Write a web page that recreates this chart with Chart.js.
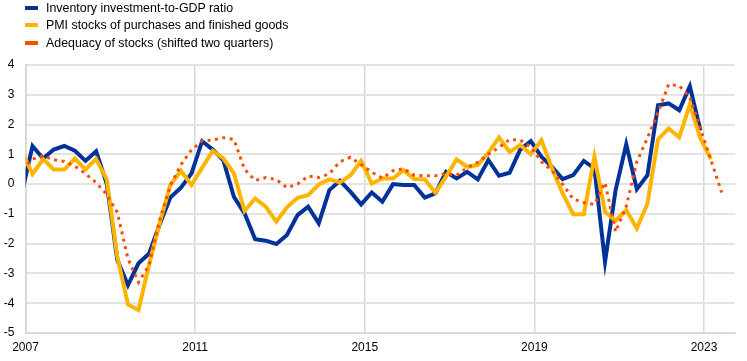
<!DOCTYPE html>
<html>
<head>
<meta charset="utf-8">
<script src="https://cdn.jsdelivr.net/npm/chart.js@4.4.1/dist/chart.umd.min.js"></script>
<style>
    body { margin: 0; background: #fff; font-family: "Liberation Sans", Arial, sans-serif; }
    #wrap { position: relative; width: 747px; height: 361px; }
    #legenda { position: absolute; left: 25px; top: -1px; font-size: 12.4px; color: #000; z-index: 2; }
    #legenda div { height: 17.5px; display: flex; align-items: center; white-space: nowrap; }
    #legenda .cor { width: 13px; height: 4px; margin-right: 8px; }
    canvas { position: absolute; left: 0; top: 0; }
</style>
</head>
<body>
<div id="wrap">
    <div id="legenda"></div>
    <canvas id="grafico" width="747" height="361"></canvas>
</div>
<script>
// trimestral, primeiro ponto = 2006 T4 (cortado na borda esquerda)
const inicio = 2006.75;
const anos = [2007, 2011, 2015, 2019, 2023];

const nomes = [
    'Inventory investment-to-GDP ratio',
    'PMI stocks of purchases and finished goods',
    'Adequacy of stocks (shifted two quarters)'
];
const cores = ['#003299', '#ffb400', '#ff4b00'];

const estoquesPib = [
    -0.3, 1.28, 0.86, 1.16, 1.28, 1.12, 0.78, 1.10, 0.02, -2.55,
    -3.39, -2.66, -2.33, -1.35, -0.45, -0.12, 0.36, 1.44, 1.16, 0.8,
    -0.43, -0.98, -1.85, -1.9, -2.01, -1.71, -1.04, -0.76, -1.32, -0.2,
    0.11, -0.26, -0.68, -0.28, -0.59, 0.0, -0.03, -0.03, -0.45, -0.31,
    0.41, 0.19, 0.41, 0.16, 0.81, 0.28, 0.38, 1.16, 1.44, 0.92,
    0.58, 0.17, 0.3, 0.78, 0.53, -2.61, -0.2, 1.34, -0.17, 0.3,
    2.65, 2.71, 2.48, 3.29, 1.8
];

const pmiEstoques = [
    1.1, 0.34, 0.84, 0.49, 0.49, 0.86, 0.49, 0.84, 0.16, -2.44,
    -4.04, -4.23, -2.7, -1.3, -0.03, 0.45, -0.03, 0.55, 1.12, 0.86,
    0.36, -0.9, -0.48, -0.76, -1.26, -0.78, -0.46, -0.37, -0.01, 0.16,
    0.06, 0.3, 0.78, 0.02, 0.19, 0.19, 0.47, 0.17, 0.16, -0.29,
    0.25, 0.83, 0.58, 0.64, 1.05, 1.57, 1.08, 1.31, 1.0, 1.48,
    0.53, -0.31, -1.01, -1.01, 0.92, -0.93, -1.23, -0.87, -1.49, -0.65,
    1.5, 1.87, 1.57, 2.67, 1.53, 0.84
];

const adequacao = [
    0.5, 0.84, 0.95, 0.82, 0.76, 0.6, 0.35, 0.05, -0.35, -0.95,
    -2.5, -3.3, -2.72, -1.2, -0.05, 0.65, 1.15, 1.45, 1.48, 1.56,
    1.5, 0.5, 0.12, 0.22, 0.15, -0.12, 0.0, 0.27, 0.22, 0.35,
    0.75, 0.9, 0.65, 0.4, 0.2, 0.45, 0.52, 0.3, 0.28, 0.28,
    0.35, 0.3, 0.55, 0.73, 1.0, 1.23, 1.5, 1.48, 1.25, 0.75,
    0.45, 0.0, -0.5, -0.62, -0.68, 0.05, -1.6, -0.75, 0.75, 1.55,
    2.4, 3.35, 3.3, 2.92, 1.85, 0.8, -0.28
];

// pontos desenhados ~2 meses dentro do trimestre
function pontos(valores) {
    return valores.map((v, i) => ({ x: inicio + 0.165 + i * 0.25, y: v }));
}

Chart.defaults.font.family = '"Liberation Sans", Arial, sans-serif';
Chart.defaults.font.size = 12;
Chart.defaults.color = '#000';

const series = [estoquesPib, pmiEstoques, adequacao];

const chart = new Chart(document.getElementById('grafico').getContext('2d'), {
    type: 'line',
    data: {
        datasets: series.map((s, i) => ({
            label: nomes[i],
            data: pontos(s),
            borderColor: cores[i],
            borderWidth: i === 2 ? 3 : 4,
            borderDash: i === 2 ? [3, 4.5] : [],
            pointRadius: 0,
            tension: 0,
            fill: false,
            order: 3 - i,
            clip: 0
        }))
    },
    options: {
        responsive: false,
        animation: false,
        layout: { padding: { top: 65, right: 12, bottom: 0, left: 4 } },
        plugins: {
            legend: { display: false },
            tooltip: { enabled: false }
        },
        scales: {
            x: {
                type: 'linear',
                min: 2007,
                max: 2023.73,
                afterBuildTicks: (escala) => { escala.ticks = anos.map(a => ({ value: a })); },
                afterFit: (escala) => { escala.height = 28; },
                grid: { color: '#d9d9d9', lineWidth: 1.5, drawTicks: false },
                border: { color: '#d9d9d9', width: 2 },
                ticks: { padding: 7, maxRotation: 0, autoSkip: false, callback: v => String(v) }
            },
            y: {
                min: -5,
                max: 4,
                afterFit: (escala) => { escala.width = 21.5; },
                ticks: { stepSize: 1, padding: 11 },
                grid: { color: '#e3e3e3', lineWidth: 2, drawTicks: false },
                border: { color: '#d9d9d9', width: 2 }
            }
        }
    }
});

const legenda = document.getElementById('legenda');
nomes.forEach((n, i) => {
    const linha = document.createElement('div');
    const cor = document.createElement('span');
    cor.className = 'cor';
    cor.style.background = cores[i];
    linha.appendChild(cor);
    linha.appendChild(document.createTextNode(n));
    legenda.appendChild(linha);
});
</script>
</body>
</html>
